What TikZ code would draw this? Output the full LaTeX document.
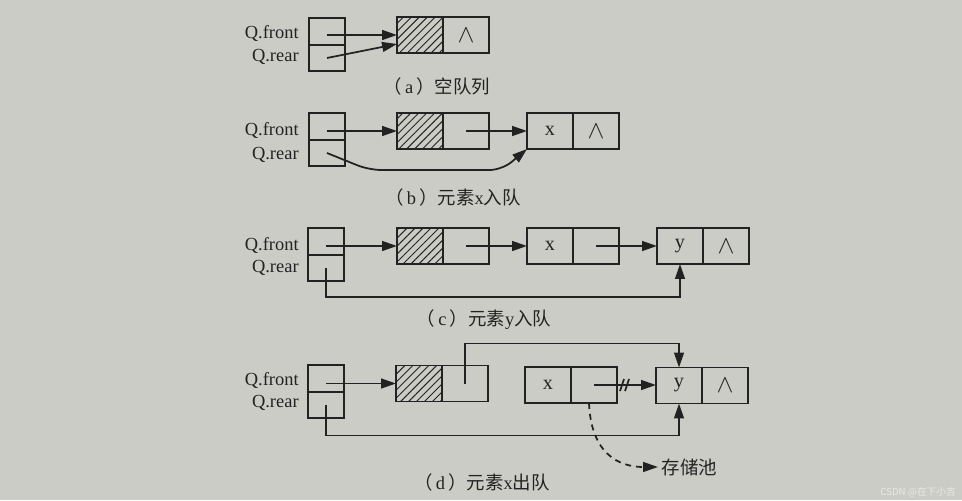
\documentclass[tikz,border=0pt]{standalone}
\usepackage{fontspec}
\setmainfont{Liberation Serif}
\newfontfamily\cjk{Noto Sans CJK SC}
\usetikzlibrary{arrows.meta,patterns.meta,calc}
\definecolor{paper}{RGB}{204,204,199}
\definecolor{ink}{RGB}{34,34,34}
\definecolor{wm}{RGB}{232,232,230}
\newcommand{\nil}{{\fontsize{15}{15}\selectfont$\wedge$}}
\begin{document}
\begin{tikzpicture}[x=0.02cm,y=-0.02cm,
  cell/.style={draw=ink, line width=1pt, minimum width=0.92cm, minimum height=0.72cm, inner sep=0pt, outer sep=0pt, text=ink, font=\fontsize{11.5}{13}\selectfont},
  pcell/.style={draw=ink, line width=1pt, minimum width=0.72cm, minimum height=0.53cm, inner sep=0pt, outer sep=0pt},
  hatch/.style={cell, pattern={Lines[angle=45,distance=3.2pt,line width=0.55pt]}, pattern color=ink},
  ptr/.style={draw=ink, line width=1pt, -{Triangle[length=8.5pt,width=5.6pt]}},
  lbl/.style={anchor=east, font=\fontsize{10.5}{12}\selectfont, text=ink, inner sep=0pt},
  captxt/.style={font=\fontsize{10.5}{13}\selectfont, text=ink, inner sep=0pt},
  tag/.style={font=\cjk\fontsize{10.5}{13}\selectfont, text=ink, inner sep=2pt}
]
\useasboundingbox (0,0) rectangle (962,500);
\fill[paper] (0,0) rectangle (962,500);

% ---------- (a) ----------
\node[pcell] (aF) at (327,31.5) {};
\node[pcell,anchor=north] (aR) at (aF.south) {};
\node[lbl] (aFt) at (299,34) {Q.front};
\node[lbl] (aRt) at (299,57) {Q.rear};
\node[hatch] (a1h) at (420,35) {};
\node[cell,anchor=west] (a1p) at (a1h.east) {\nil};
\draw[ptr] (aF.center |- a1h.west) -- (a1h.west);
\draw[ptr] (aR.center) -- ($(a1h.west)+(0,9)$);
\node[captxt] (capa) at (437,86) {{\cjk （}\,a\,{\cjk ）空队列}};

% ---------- (b) ----------
\node[pcell] (bF) at (327,126.5) {};
\node[pcell,anchor=north] (bR) at (bF.south) {};
\node[lbl] (bFt) at (299,131) {Q.front};
\node[lbl] (bRt) at (299,155) {Q.rear};
\node[hatch] (b1h) at (420,131) {};
\node[cell,anchor=west] (b1p) at (b1h.east) {};
\node[cell] (b2x) at (550,131) {x};
\node[cell,anchor=west] (b2p) at (b2x.east) {\nil};
\draw[ptr] (bF.center |- b1h.west) -- (b1h.west);
\draw[ptr] (b1p.center) -- (b2x.west);
\draw[ptr, rounded corners=7pt] (bR.center) -- ($(bR.center)+(42,17)$) -- ($(b2x.south west)+(-25,21)$) -- (b2x.south west);
\node[captxt] (capb) at (453,197) {{\cjk （}\,b\,{\cjk ）元素}x{\cjk 入队}};

% ---------- (c) ----------
\node[pcell] (cF) at (326,241.5) {};
\node[pcell,anchor=north] (cR) at (cF.south) {};
\node[lbl] (cFt) at (299,245) {Q.front};
\node[lbl] (cRt) at (299,268) {Q.rear};
\node[hatch] (c1h) at (420,246) {};
\node[cell,anchor=west] (c1p) at (c1h.east) {};
\node[cell] (c2x) at (550,246) {x};
\node[cell,anchor=west] (c2p) at (c2x.east) {};
\node[cell] (c3y) at (680,246) {y};
\node[cell,anchor=west] (c3p) at (c3y.east) {\nil};
\draw[ptr] (cF.center |- c1h.west) -- (c1h.west);
\draw[ptr] (c1p.center) -- (c2x.west);
\draw[ptr] (c2p.center) -- (c3y.west);
\draw[ptr] (cR.center) |- ($(c3y.south)+(0,33)$) -- (c3y.south);
\node[captxt] (capc) at (484,320) {{\cjk （}\,c\,{\cjk ）元素}y{\cjk 入队}};

% ---------- (d) ----------
\node[pcell] (dF) at (326,378.5) {};
\node[pcell,anchor=north] (dR) at (dF.south) {};
\node[lbl] (dFt) at (299,380) {Q.front};
\node[lbl] (dRt) at (299,403) {Q.rear};
\node[hatch] (d1h) at (419,383.5) {};
\node[cell,anchor=west] (d1p) at (d1h.east) {};
\node[cell] (d2x) at (548,385) {x};
\node[cell,anchor=west] (d2p) at (d2x.east) {};
\node[cell] (d3y) at (679,385.5) {y};
\node[cell,anchor=west] (d3p) at (d3y.east) {\nil};
\node[tag,anchor=west] (store) at (658,467) {存储池};
\draw[ptr] (dF.center |- d1h.west) -- (d1h.west);
\draw[ptr] (d1p.center) |- ($(d3y.north)+(0,-24)$) -- (d3y.north);
\draw[ptr] (d2p.center) -- coordinate[pos=0.5] (cut) (d2p.center -| d3y.west);
\draw[draw=ink, line width=1pt] ($(cut)+(-5,6)$) -- ($(cut)+(-1,-6)$)
                                ($(cut)+(0,6)$) -- ($(cut)+(4,-6)$);
\draw[ptr] (dR.center) |- ($(d3y.south)+(0,32)$) -- (d3y.south);
\draw[ptr, dash pattern=on 3.4pt off 2.8pt] ($(d2p.south)+(-5,0)$) .. controls +(2,50) and +(-40,0) .. (store.west);
\node[captxt] (capd) at (482,482) {{\cjk （}\,d\,{\cjk ）元素}x{\cjk 出队}};

% watermark
\node[font=\cjk\fontsize{5.5}{6}\selectfont, text=wm, anchor=east, inner sep=0pt] (wmark) at (956,492) {CSDN @在下小吉};
\end{tikzpicture}
\end{document}
